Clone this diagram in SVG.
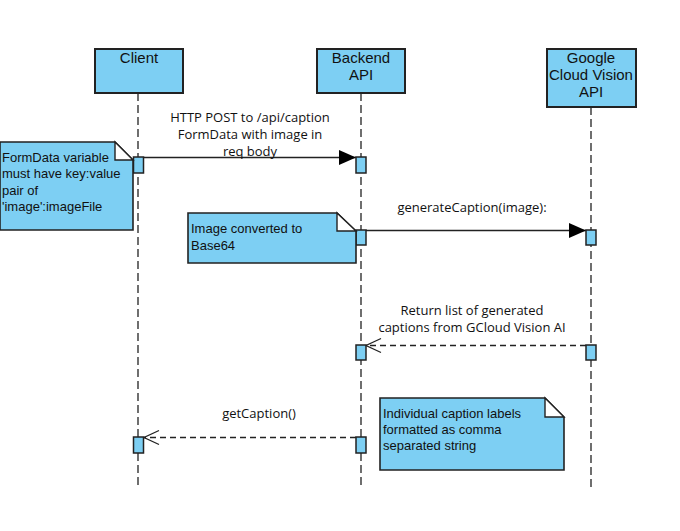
<svg xmlns="http://www.w3.org/2000/svg" width="680" height="531" viewBox="0 0 680 531">
<style>
.box{fill:#7DCFF3;stroke:#222;stroke-width:2}
.note{fill:#7DCFF3;stroke:#222;stroke-width:1.6}
.fold{fill:#fff;stroke:#222;stroke-width:1.4}
.act{fill:#7DCFF3;stroke:#222;stroke-width:1.5}
.life{stroke:#222;stroke-width:1.3;stroke-dasharray:8 4;fill:none}
.msg{stroke:#222;stroke-width:1.3;fill:none}
.ret{stroke:#222;stroke-width:1.3;fill:none;stroke-dasharray:6 4}
.ttl{font-family:"Liberation Sans",Arial,sans-serif;font-size:15px;fill:#111;text-anchor:middle}
.nt{font-family:"Liberation Sans",Arial,sans-serif;font-size:13px;fill:#111}
.lbl{font-family:"Open Sans","Noto Sans",sans-serif;font-size:13px;fill:#111;text-anchor:middle}
</style>
<defs>
<marker id="fill" markerWidth="18" markerHeight="16" refX="17" refY="8" orient="auto" markerUnits="userSpaceOnUse">
<path d="M0,0.5 L17,8 L0,15.5 Z" fill="#000"/>
</marker>
<marker id="open" markerWidth="18" markerHeight="18" refX="16" refY="8" orient="auto" markerUnits="userSpaceOnUse">
<path d="M1,1 L16,8 L1,15" fill="none" stroke="#222" stroke-width="1.3"/>
</marker>
</defs>
<rect width="680" height="531" fill="#fff"/>

<g id="lifelines">
<line class="life" x1="138" y1="93" x2="138" y2="488"/>
<line class="life" x1="361" y1="93" x2="361" y2="488"/>
<line class="life" x1="591" y1="107" x2="591" y2="488"/>
</g>

<g id="client">
<rect class="box" x="95" y="49" width="88" height="44"/>
<text class="ttl" x="139" y="63">Client</text>
</g>
<g id="backend">
<rect class="box" x="317" y="49" width="88" height="44"/>
<text class="ttl" x="361" y="63">Backend</text>
<text class="ttl" x="361" y="80">API</text>
</g>
<g id="google">
<rect class="box" x="547" y="49" width="89" height="58"/>
<text class="ttl" x="591" y="63">Google</text>
<text class="ttl" x="591" y="80">Cloud Vision</text>
<text class="ttl" x="591" y="97">API</text>
</g>

<g id="connectors">
<line class="msg" x1="144" y1="157.5" x2="356" y2="157.5" marker-end="url(#fill)"/>
<line class="msg" x1="366" y1="230.5" x2="586" y2="230.5" marker-end="url(#fill)"/>
<line class="ret" x1="586" y1="345.5" x2="366" y2="345.5" marker-end="url(#open)"/>
<line class="ret" x1="356" y1="437.5" x2="144" y2="437.5" marker-end="url(#open)"/>
<text class="lbl" x="250" y="122">HTTP POST to /api/caption</text>
<text class="lbl" x="250" y="139">FormData with image in</text>
<text class="lbl" x="250" y="156">req body</text>
<text class="lbl" x="472" y="212">generateCaption(image):</text>
<text class="lbl" x="472" y="315">Return list of generated</text>
<text class="lbl" x="472" y="332">captions from GCloud Vision AI</text>
<text class="lbl" x="259" y="418">getCaption()</text>
</g>

<g id="activations">
<rect class="act" x="133.5" y="157" width="10" height="16"/>
<rect class="act" x="356" y="157" width="10" height="16"/>
<rect class="act" x="356" y="230" width="10" height="15"/>
<rect class="act" x="586" y="230" width="10" height="15"/>
<rect class="act" x="356" y="345" width="10" height="15"/>
<rect class="act" x="586" y="345" width="10" height="15"/>
<rect class="act" x="133.5" y="437" width="10" height="16"/>
<rect class="act" x="356" y="437" width="10" height="16"/>
</g>

<g id="note1">
<path class="note" d="M0,142 H115 L133,160 V230 H0 Z"/>
<path class="fold" d="M115,142 V160 H133 Z"/>
<text class="nt" x="2" y="162">FormData variable</text>
<text class="nt" x="2" y="178">must have key:value</text>
<text class="nt" x="2" y="195">pair of</text>
<text class="nt" x="2" y="211">'image':imageFile</text>
</g>
<g id="note2">
<path class="note" d="M188,213 H337 L356,231 V263 H188 Z"/>
<path class="fold" d="M337,213 V231 H356 Z"/>
<text class="nt" x="191" y="233">Image converted to</text>
<text class="nt" x="191" y="250">Base64</text>
</g>
<g id="note3">
<path class="note" d="M380,398 H545 L564,417 V470 H380 Z"/>
<path class="fold" d="M545,398 V417 H564 Z"/>
<text class="nt" x="383" y="418">Individual caption labels</text>
<text class="nt" x="383" y="434">formatted as comma</text>
<text class="nt" x="383" y="450">separated string</text>
</g>
</svg>
